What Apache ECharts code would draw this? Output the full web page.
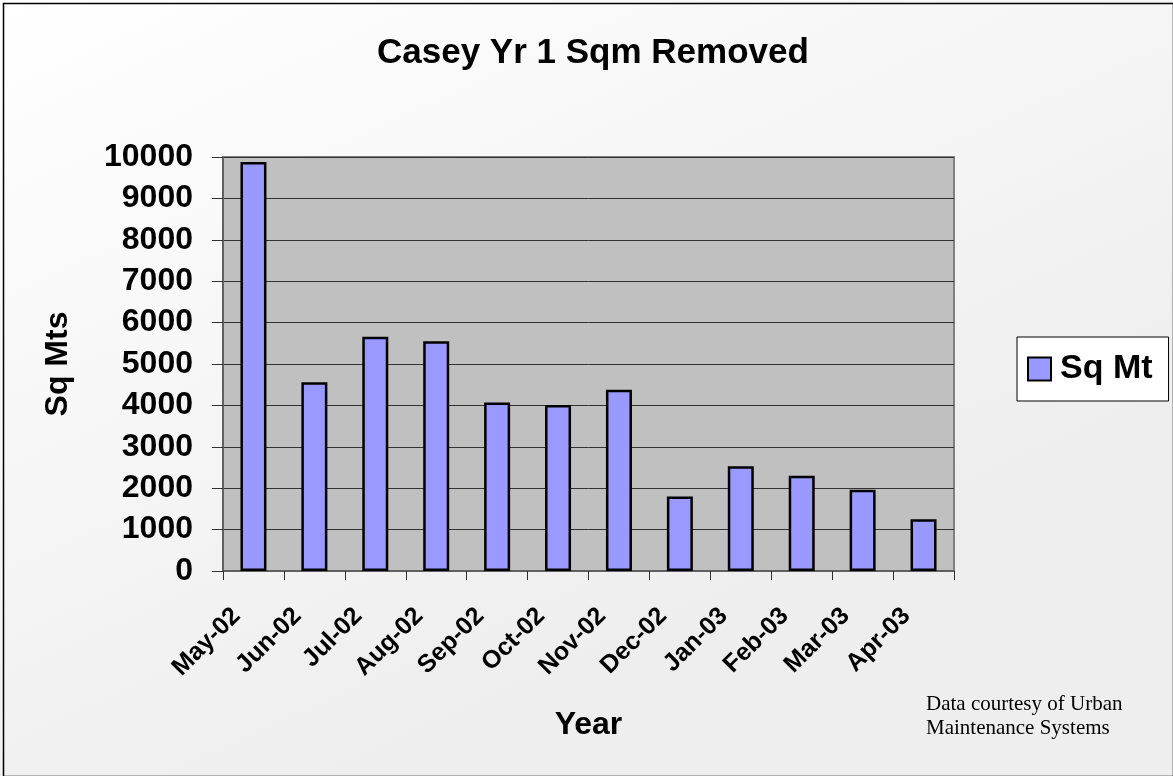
<!DOCTYPE html>
<html>
<head>
<meta charset="utf-8">
<script src="https://cdn.jsdelivr.net/npm/echarts@6/dist/echarts.min.js"></script>
<style>
  html, body { margin: 0; padding: 0; }
  #chart { width: 1173px; height: 776px; }
</style>
</head>
<body>
<div id="chart"></div>
<script>
// months along the x axis
var months = ['May-02', 'Jun-02', 'Jul-02', 'Aug-02', 'Sep-02', 'Oct-02',
              'Nov-02', 'Dec-02', 'Jan-03', 'Feb-03', 'Mar-03', 'Apr-03'];
// square metres removed each month
var sqMt = [9880, 4560, 5660, 5550, 4070, 4010, 4380, 1800, 2530, 2300, 1960, 1250];

var chartDom = document.getElementById('chart');
var myChart = echarts.init(chartDom);

var font = 'Arial, "Liberation Sans", sans-serif';

var option = {
  backgroundColor: {
    type: 'linear', x: 0, y: 0, x2: 0.3, y2: 1,
    colorStops: [
      {offset: 0, color: '#ffffff'},
      {offset: 1, color: '#eeeeee'}
    ]
  },
  animation: false,
  title: {
    text: 'Casey Yr 1 Sqm Removed',
    left: 372,
    top: 31,
    textStyle: {
      color: '#000',
      fontSize: 35,
      fontWeight: 'bold',
      fontFamily: font
    }
  },
  legend: {
    data: ['Sq Mt'],
    left: 1017,
    top: 337,
    padding: [15, 16, 15, 10],
    backgroundColor: '#ffffff',
    borderColor: '#000',
    borderWidth: 1,
    borderRadius: 0,
    icon: 'rect',
    itemWidth: 23,
    itemHeight: 23,
    itemStyle: {
      borderColor: '#000',
      borderWidth: 2
    },
    textStyle: {
      color: '#000',
      fontSize: 34,
      lineHeight: 24,
      fontWeight: 'bold',
      fontFamily: font,
      padding: [0, 0, 0, 4]
    }
  },
  grid: {
    left: 223,
    right: 219,
    top: 157,
    bottom: 205,
    show: true,
    backgroundColor: '#c0c0c0',
    borderColor: '#808080',
    borderWidth: 2
  },
  xAxis: {
    type: 'category',
    data: months,
    name: 'Year',
    nameLocation: 'middle',
    nameGap: 138,
    nameTextStyle: {
      color: '#000',
      fontSize: 32,
      fontWeight: 'bold',
      fontFamily: font
    },
    axisLine: {
      lineStyle: { color: '#606060', width: 2 }
    },
    axisTick: {
      show: true,
      interval: 0,
      length: 9,
      lineStyle: { color: '#303030', width: 1 }
    },
    axisLabel: {
      interval: 0,
      rotate: 45,
      margin: 24,
      padding: [0, 24, 0, 0],
      color: '#000',
      fontSize: 25,
      fontWeight: 'bold',
      fontFamily: font
    },
    splitLine: { show: false }
  },
  yAxis: {
    type: 'value',
    min: 0,
    max: 10000,
    interval: 1000,
    name: 'Sq Mts',
    nameLocation: 'middle',
    nameGap: 149,
    nameTextStyle: {
      color: '#000',
      fontSize: 32,
      fontWeight: 'bold',
      fontFamily: font
    },
    axisLine: {
      show: true,
      lineStyle: { color: '#606060', width: 2 }
    },
    axisTick: {
      show: true,
      length: 11,
      lineStyle: { color: '#303030', width: 1 }
    },
    axisLabel: {
      margin: 30,
      color: '#000',
      fontSize: 32,
      fontWeight: 'bold',
      fontFamily: font,
      formatter: function (v) { return String(v); }
    },
    splitLine: {
      show: true,
      lineStyle: { color: '#333333', width: 1 }
    }
  },
  series: [
    {
      name: 'Sq Mt',
      type: 'bar',
      data: sqMt,
      barWidth: 26,
      itemStyle: {
        color: '#9999ff',
        borderColor: '#000',
        borderWidth: 2.5
      }
    }
  ],
  graphic: [
    {
      type: 'rect',
      left: 1,
      top: 1,
      shape: { width: 1170, height: 773 },
      style: { fill: 'none', stroke: '#000', lineWidth: 1.5 },
      silent: true
    },
    {
      type: 'text',
      left: 926,
      top: 692,
      style: {
        text: 'Data courtesy of Urban\nMaintenance Systems',
        fill: '#000',
        font: '21px "Liberation Serif", "Times New Roman", serif',
        lineHeight: 24
      }
    }
  ]
};

myChart.setOption(option);
</script>
</body>
</html>
